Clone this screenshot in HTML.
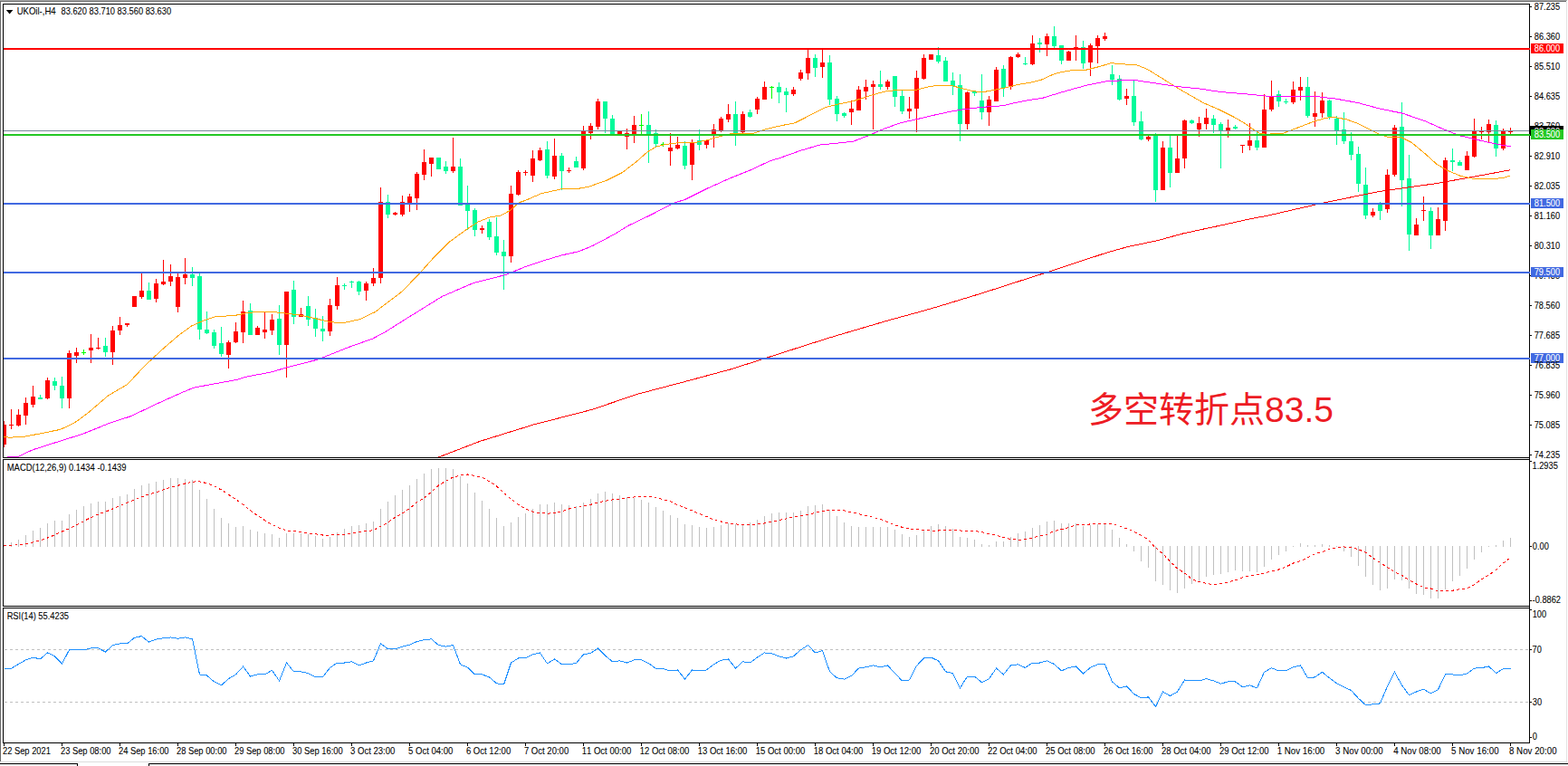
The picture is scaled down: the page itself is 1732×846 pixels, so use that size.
<!DOCTYPE html>
<html><head><meta charset="utf-8"><title>UKOil H4</title>
<style>
html,body{margin:0;padding:0;background:#fff;}
body{width:1732px;height:846px;overflow:hidden;position:relative;font-family:"Liberation Sans",sans-serif;}
svg{position:absolute;left:0;top:0;display:block}
svg text{font-family:"Liberation Sans",sans-serif;}
svg text{font-size:10px;font-kerning:none;stroke-width:0.08px}
</style></head><body>
<svg width="1732" height="846" viewBox="0 0 1732 846">
<rect x="0" y="0" width="1732" height="846" fill="#fff"/>
<g shape-rendering="crispEdges">
<rect x="0" y="0" width="1731" height="1" fill="#a9a9a9"/><rect x="0" y="1" width="1730" height="1" fill="#696969"/><rect x="0" y="1" width="1" height="840" fill="#696969"/><rect x="1730" y="2" width="1" height="840" fill="#e3e3e3"/><rect x="1" y="841" width="1730" height="1" fill="#dcdcdc"/><rect x="0" y="844" width="85" height="2" fill="#f0f0f0"/><rect x="165" y="844" width="1567" height="2" fill="#f0f0f0"/><rect x="0" y="843" width="86" height="1" fill="#000"/><rect x="85" y="843" width="1" height="3" fill="#000"/><rect x="164" y="843" width="1568" height="1" fill="#000"/><rect x="164" y="843" width="1" height="3" fill="#000"/>
<clipPath id="cm"><rect x="4" y="5" width="1685" height="500"/></clipPath>
<g clip-path="url(#cm)">
<rect x="4" y="465" width="1" height="29" fill="#ff0000"/><rect x="2" y="469" width="5" height="22" fill="#ff0000"/><rect x="12" y="452" width="1" height="22" fill="#ff0000"/><rect x="10" y="469" width="5" height="1" fill="#ff0000"/><rect x="20" y="452" width="1" height="19" fill="#ff0000"/><rect x="18" y="458" width="5" height="12" fill="#ff0000"/><rect x="28" y="439" width="1" height="30" fill="#ff0000"/><rect x="26" y="445" width="5" height="14" fill="#ff0000"/><rect x="36" y="426" width="1" height="24" fill="#ff0000"/><rect x="34" y="438" width="5" height="9" fill="#ff0000"/><rect x="44" y="436" width="1" height="5" fill="#00fa9a"/><rect x="42" y="439" width="5" height="2" fill="#00fa9a"/><rect x="52" y="417" width="1" height="24" fill="#ff0000"/><rect x="50" y="420" width="5" height="20" fill="#ff0000"/><rect x="60" y="417" width="1" height="14" fill="#00fa9a"/><rect x="58" y="421" width="5" height="5" fill="#00fa9a"/><rect x="68" y="416" width="1" height="35" fill="#00fa9a"/><rect x="66" y="426" width="5" height="14" fill="#00fa9a"/><rect x="76" y="387" width="1" height="64" fill="#ff0000"/><rect x="74" y="390" width="5" height="50" fill="#ff0000"/><rect x="84" y="384" width="1" height="17" fill="#ff0000"/><rect x="82" y="389" width="5" height="4" fill="#ff0000"/><rect x="92" y="386" width="1" height="6" fill="#00ff00"/><rect x="90" y="389" width="5" height="1" fill="#00ff00"/><rect x="100" y="369" width="1" height="32" fill="#ff0000"/><rect x="98" y="384" width="5" height="3" fill="#ff0000"/><rect x="108" y="373" width="1" height="13" fill="#ff0000"/><rect x="106" y="384" width="5" height="1" fill="#ff0000"/><rect x="116" y="373" width="1" height="21" fill="#00fa9a"/><rect x="114" y="382" width="5" height="7" fill="#00fa9a"/><rect x="124" y="360" width="1" height="43" fill="#ff0000"/><rect x="122" y="365" width="5" height="24" fill="#ff0000"/><rect x="132" y="350" width="1" height="20" fill="#ff0000"/><rect x="130" y="359" width="5" height="6" fill="#ff0000"/><rect x="140" y="357" width="1" height="4" fill="#ff0000"/><rect x="138" y="357" width="5" height="2" fill="#ff0000"/><rect x="148" y="327" width="1" height="12" fill="#ff0000"/><rect x="146" y="327" width="5" height="12" fill="#ff0000"/><rect x="156" y="301" width="1" height="29" fill="#ff0000"/><rect x="154" y="321" width="5" height="7" fill="#ff0000"/><rect x="164" y="312" width="1" height="19" fill="#00fa9a"/><rect x="162" y="321" width="5" height="10" fill="#00fa9a"/><rect x="172" y="308" width="1" height="26" fill="#ff0000"/><rect x="170" y="313" width="5" height="17" fill="#ff0000"/><rect x="180" y="287" width="1" height="28" fill="#ff0000"/><rect x="178" y="311" width="5" height="3" fill="#ff0000"/><rect x="188" y="292" width="1" height="24" fill="#ff0000"/><rect x="186" y="305" width="5" height="6" fill="#ff0000"/><rect x="196" y="301" width="1" height="44" fill="#ff0000"/><rect x="194" y="306" width="5" height="33" fill="#ff0000"/><rect x="204" y="285" width="1" height="29" fill="#ff0000"/><rect x="202" y="303" width="5" height="4" fill="#ff0000"/><rect x="212" y="295" width="1" height="21" fill="#00fa9a"/><rect x="210" y="303" width="5" height="4" fill="#00fa9a"/><rect x="220" y="301" width="1" height="74" fill="#00fa9a"/><rect x="218" y="305" width="5" height="59" fill="#00fa9a"/><rect x="228" y="344" width="1" height="25" fill="#00fa9a"/><rect x="226" y="364" width="5" height="4" fill="#00fa9a"/><rect x="236" y="364" width="1" height="21" fill="#00fa9a"/><rect x="234" y="367" width="5" height="15" fill="#00fa9a"/><rect x="244" y="361" width="1" height="33" fill="#00fa9a"/><rect x="242" y="379" width="5" height="12" fill="#00fa9a"/><rect x="252" y="376" width="1" height="31" fill="#ff0000"/><rect x="250" y="378" width="5" height="14" fill="#ff0000"/><rect x="260" y="356" width="1" height="23" fill="#ff0000"/><rect x="258" y="366" width="5" height="12" fill="#ff0000"/><rect x="268" y="332" width="1" height="47" fill="#ff0000"/><rect x="266" y="344" width="5" height="23" fill="#ff0000"/><rect x="276" y="335" width="1" height="35" fill="#00fa9a"/><rect x="274" y="343" width="5" height="27" fill="#00fa9a"/><rect x="284" y="360" width="1" height="10" fill="#ff0000"/><rect x="282" y="362" width="5" height="8" fill="#ff0000"/><rect x="292" y="345" width="1" height="29" fill="#ff0000"/><rect x="290" y="364" width="5" height="3" fill="#ff0000"/><rect x="300" y="347" width="1" height="23" fill="#ff0000"/><rect x="298" y="353" width="5" height="12" fill="#ff0000"/><rect x="308" y="337" width="1" height="55" fill="#00fa9a"/><rect x="306" y="352" width="5" height="29" fill="#00fa9a"/><rect x="316" y="322" width="1" height="95" fill="#ff0000"/><rect x="314" y="322" width="5" height="59" fill="#ff0000"/><rect x="324" y="310" width="1" height="48" fill="#00fa9a"/><rect x="322" y="320" width="5" height="30" fill="#00fa9a"/><rect x="332" y="340" width="1" height="10" fill="#ff0000"/><rect x="330" y="347" width="5" height="3" fill="#ff0000"/><rect x="340" y="327" width="1" height="33" fill="#00fa9a"/><rect x="338" y="338" width="5" height="15" fill="#00fa9a"/><rect x="348" y="341" width="1" height="31" fill="#00fa9a"/><rect x="346" y="351" width="5" height="12" fill="#00fa9a"/><rect x="356" y="349" width="1" height="28" fill="#00fa9a"/><rect x="354" y="363" width="5" height="3" fill="#00fa9a"/><rect x="364" y="330" width="1" height="41" fill="#ff0000"/><rect x="362" y="337" width="5" height="29" fill="#ff0000"/><rect x="372" y="306" width="1" height="36" fill="#ff0000"/><rect x="370" y="315" width="5" height="23" fill="#ff0000"/><rect x="380" y="313" width="1" height="7" fill="#00fa9a"/><rect x="378" y="315" width="5" height="1" fill="#00fa9a"/><rect x="388" y="310" width="1" height="8" fill="#00fa9a"/><rect x="386" y="311" width="5" height="1" fill="#00fa9a"/><rect x="396" y="310" width="1" height="16" fill="#00fa9a"/><rect x="394" y="311" width="5" height="11" fill="#00fa9a"/><rect x="404" y="311" width="1" height="21" fill="#ff0000"/><rect x="402" y="313" width="5" height="8" fill="#ff0000"/><rect x="412" y="296" width="1" height="20" fill="#ff0000"/><rect x="410" y="307" width="5" height="6" fill="#ff0000"/><rect x="420" y="207" width="1" height="106" fill="#ff0000"/><rect x="418" y="223" width="5" height="84" fill="#ff0000"/><rect x="428" y="215" width="1" height="26" fill="#00fa9a"/><rect x="426" y="223" width="5" height="14" fill="#00fa9a"/><rect x="436" y="234" width="1" height="4" fill="#ff0000"/><rect x="434" y="235" width="5" height="2" fill="#ff0000"/><rect x="444" y="216" width="1" height="23" fill="#ff0000"/><rect x="442" y="223" width="5" height="14" fill="#ff0000"/><rect x="452" y="214" width="1" height="20" fill="#ff0000"/><rect x="450" y="217" width="5" height="7" fill="#ff0000"/><rect x="460" y="190" width="1" height="42" fill="#ff0000"/><rect x="458" y="192" width="5" height="27" fill="#ff0000"/><rect x="468" y="165" width="1" height="34" fill="#ff0000"/><rect x="466" y="179" width="5" height="14" fill="#ff0000"/><rect x="476" y="174" width="1" height="21" fill="#ff0000"/><rect x="474" y="174" width="5" height="7" fill="#ff0000"/><rect x="484" y="174" width="1" height="13" fill="#00fa9a"/><rect x="482" y="174" width="5" height="13" fill="#00fa9a"/><rect x="492" y="178" width="1" height="14" fill="#00fa9a"/><rect x="490" y="184" width="5" height="5" fill="#00fa9a"/><rect x="500" y="152" width="1" height="39" fill="#ff0000"/><rect x="498" y="184" width="5" height="5" fill="#ff0000"/><rect x="508" y="175" width="1" height="52" fill="#00fa9a"/><rect x="506" y="184" width="5" height="43" fill="#00fa9a"/><rect x="516" y="205" width="1" height="49" fill="#00fa9a"/><rect x="514" y="226" width="5" height="7" fill="#00fa9a"/><rect x="524" y="230" width="1" height="31" fill="#00fa9a"/><rect x="522" y="232" width="5" height="22" fill="#00fa9a"/><rect x="532" y="249" width="1" height="9" fill="#ff0000"/><rect x="530" y="252" width="5" height="2" fill="#ff0000"/><rect x="540" y="242" width="1" height="23" fill="#00fa9a"/><rect x="538" y="245" width="5" height="17" fill="#00fa9a"/><rect x="548" y="240" width="1" height="42" fill="#00fa9a"/><rect x="546" y="261" width="5" height="18" fill="#00fa9a"/><rect x="556" y="265" width="1" height="55" fill="#00fa9a"/><rect x="554" y="278" width="5" height="5" fill="#00fa9a"/><rect x="564" y="205" width="1" height="85" fill="#ff0000"/><rect x="562" y="214" width="5" height="69" fill="#ff0000"/><rect x="572" y="188" width="1" height="28" fill="#ff0000"/><rect x="570" y="190" width="5" height="25" fill="#ff0000"/><rect x="580" y="188" width="1" height="6" fill="#ff0000"/><rect x="578" y="190" width="5" height="1" fill="#ff0000"/><rect x="588" y="166" width="1" height="35" fill="#ff0000"/><rect x="586" y="175" width="5" height="19" fill="#ff0000"/><rect x="596" y="163" width="1" height="15" fill="#ff0000"/><rect x="594" y="166" width="5" height="11" fill="#ff0000"/><rect x="604" y="156" width="1" height="41" fill="#00fa9a"/><rect x="602" y="165" width="5" height="29" fill="#00fa9a"/><rect x="612" y="153" width="1" height="45" fill="#ff0000"/><rect x="610" y="172" width="5" height="23" fill="#ff0000"/><rect x="620" y="169" width="1" height="41" fill="#00fa9a"/><rect x="618" y="172" width="5" height="17" fill="#00fa9a"/><rect x="628" y="185" width="1" height="6" fill="#ff0000"/><rect x="626" y="188" width="5" height="1" fill="#ff0000"/><rect x="636" y="173" width="1" height="12" fill="#00fa9a"/><rect x="634" y="178" width="5" height="7" fill="#00fa9a"/><rect x="644" y="139" width="1" height="49" fill="#ff0000"/><rect x="642" y="144" width="5" height="42" fill="#ff0000"/><rect x="652" y="136" width="1" height="18" fill="#ff0000"/><rect x="650" y="139" width="5" height="8" fill="#ff0000"/><rect x="660" y="109" width="1" height="34" fill="#ff0000"/><rect x="658" y="112" width="5" height="28" fill="#ff0000"/><rect x="668" y="112" width="1" height="35" fill="#00fa9a"/><rect x="666" y="112" width="5" height="19" fill="#00fa9a"/><rect x="676" y="127" width="1" height="23" fill="#00fa9a"/><rect x="674" y="131" width="5" height="18" fill="#00fa9a"/><rect x="684" y="144" width="1" height="4" fill="#ff0000"/><rect x="682" y="145" width="5" height="3" fill="#ff0000"/><rect x="692" y="142" width="1" height="23" fill="#ff0000"/><rect x="690" y="147" width="5" height="4" fill="#ff0000"/><rect x="700" y="128" width="1" height="30" fill="#ff0000"/><rect x="698" y="138" width="5" height="10" fill="#ff0000"/><rect x="708" y="126" width="1" height="24" fill="#00ff00"/><rect x="706" y="138" width="5" height="1" fill="#00ff00"/><rect x="716" y="123" width="1" height="57" fill="#00fa9a"/><rect x="714" y="138" width="5" height="10" fill="#00fa9a"/><rect x="724" y="143" width="1" height="19" fill="#00fa9a"/><rect x="722" y="147" width="5" height="12" fill="#00fa9a"/><rect x="732" y="157" width="1" height="5" fill="#00ff00"/><rect x="730" y="159" width="5" height="1" fill="#00ff00"/><rect x="740" y="147" width="1" height="36" fill="#ff0000"/><rect x="738" y="163" width="5" height="4" fill="#ff0000"/><rect x="748" y="151" width="1" height="14" fill="#ff0000"/><rect x="746" y="160" width="5" height="4" fill="#ff0000"/><rect x="756" y="156" width="1" height="31" fill="#00fa9a"/><rect x="754" y="161" width="5" height="22" fill="#00fa9a"/><rect x="764" y="154" width="1" height="45" fill="#ff0000"/><rect x="762" y="157" width="5" height="25" fill="#ff0000"/><rect x="772" y="143" width="1" height="23" fill="#00fa9a"/><rect x="770" y="155" width="5" height="5" fill="#00fa9a"/><rect x="780" y="154" width="1" height="10" fill="#ff0000"/><rect x="778" y="155" width="5" height="5" fill="#ff0000"/><rect x="788" y="137" width="1" height="26" fill="#ff0000"/><rect x="786" y="143" width="5" height="7" fill="#ff0000"/><rect x="796" y="129" width="1" height="17" fill="#ff0000"/><rect x="794" y="131" width="5" height="13" fill="#ff0000"/><rect x="804" y="115" width="1" height="20" fill="#ff0000"/><rect x="802" y="126" width="5" height="6" fill="#ff0000"/><rect x="812" y="112" width="1" height="49" fill="#00fa9a"/><rect x="810" y="126" width="5" height="22" fill="#00fa9a"/><rect x="820" y="123" width="1" height="25" fill="#ff0000"/><rect x="818" y="126" width="5" height="20" fill="#ff0000"/><rect x="828" y="121" width="1" height="9" fill="#00fa9a"/><rect x="826" y="124" width="5" height="5" fill="#00fa9a"/><rect x="836" y="107" width="1" height="19" fill="#ff0000"/><rect x="834" y="109" width="5" height="12" fill="#ff0000"/><rect x="844" y="90" width="1" height="20" fill="#ff0000"/><rect x="842" y="96" width="5" height="14" fill="#ff0000"/><rect x="852" y="95" width="1" height="14" fill="#00ff00"/><rect x="850" y="96" width="5" height="1" fill="#00ff00"/><rect x="860" y="91" width="1" height="23" fill="#00fa9a"/><rect x="858" y="96" width="5" height="6" fill="#00fa9a"/><rect x="868" y="97" width="1" height="27" fill="#00fa9a"/><rect x="866" y="101" width="5" height="4" fill="#00fa9a"/><rect x="876" y="96" width="1" height="10" fill="#ff0000"/><rect x="874" y="99" width="5" height="5" fill="#ff0000"/><rect x="884" y="77" width="1" height="12" fill="#ff0000"/><rect x="882" y="80" width="5" height="7" fill="#ff0000"/><rect x="892" y="54" width="1" height="34" fill="#ff0000"/><rect x="890" y="64" width="5" height="17" fill="#ff0000"/><rect x="900" y="60" width="1" height="25" fill="#00fa9a"/><rect x="898" y="64" width="5" height="11" fill="#00fa9a"/><rect x="908" y="55" width="1" height="31" fill="#ff0000"/><rect x="906" y="69" width="5" height="5" fill="#ff0000"/><rect x="916" y="61" width="1" height="55" fill="#00fa9a"/><rect x="914" y="69" width="5" height="41" fill="#00fa9a"/><rect x="924" y="106" width="1" height="28" fill="#00fa9a"/><rect x="922" y="109" width="5" height="17" fill="#00fa9a"/><rect x="932" y="124" width="1" height="6" fill="#00fa9a"/><rect x="930" y="125" width="5" height="3" fill="#00fa9a"/><rect x="940" y="111" width="1" height="27" fill="#ff0000"/><rect x="938" y="120" width="5" height="4" fill="#ff0000"/><rect x="948" y="95" width="1" height="27" fill="#ff0000"/><rect x="946" y="99" width="5" height="23" fill="#ff0000"/><rect x="956" y="88" width="1" height="22" fill="#ff0000"/><rect x="954" y="96" width="5" height="5" fill="#ff0000"/><rect x="964" y="89" width="1" height="54" fill="#ff0000"/><rect x="962" y="93" width="5" height="3" fill="#ff0000"/><rect x="972" y="78" width="1" height="21" fill="#00fa9a"/><rect x="970" y="93" width="5" height="3" fill="#00fa9a"/><rect x="980" y="88" width="1" height="11" fill="#ff0000"/><rect x="978" y="90" width="5" height="6" fill="#ff0000"/><rect x="988" y="84" width="1" height="34" fill="#00fa9a"/><rect x="986" y="84" width="5" height="23" fill="#00fa9a"/><rect x="996" y="100" width="1" height="26" fill="#00fa9a"/><rect x="994" y="106" width="5" height="17" fill="#00fa9a"/><rect x="1004" y="107" width="1" height="24" fill="#ff0000"/><rect x="1002" y="120" width="5" height="3" fill="#ff0000"/><rect x="1012" y="78" width="1" height="68" fill="#ff0000"/><rect x="1010" y="86" width="5" height="34" fill="#ff0000"/><rect x="1020" y="60" width="1" height="28" fill="#ff0000"/><rect x="1018" y="64" width="5" height="23" fill="#ff0000"/><rect x="1028" y="60" width="1" height="6" fill="#ff0000"/><rect x="1026" y="60" width="5" height="6" fill="#ff0000"/><rect x="1036" y="52" width="1" height="18" fill="#00fa9a"/><rect x="1034" y="61" width="5" height="7" fill="#00fa9a"/><rect x="1044" y="63" width="1" height="27" fill="#00fa9a"/><rect x="1042" y="67" width="5" height="23" fill="#00fa9a"/><rect x="1052" y="80" width="1" height="25" fill="#00fa9a"/><rect x="1050" y="89" width="5" height="6" fill="#00fa9a"/><rect x="1060" y="82" width="1" height="74" fill="#00fa9a"/><rect x="1058" y="94" width="5" height="43" fill="#00fa9a"/><rect x="1068" y="101" width="1" height="42" fill="#ff0000"/><rect x="1066" y="102" width="5" height="35" fill="#ff0000"/><rect x="1076" y="101" width="1" height="5" fill="#00fa9a"/><rect x="1074" y="101" width="5" height="2" fill="#00fa9a"/><rect x="1084" y="82" width="1" height="50" fill="#00fa9a"/><rect x="1082" y="111" width="5" height="13" fill="#00fa9a"/><rect x="1092" y="106" width="1" height="33" fill="#ff0000"/><rect x="1090" y="110" width="5" height="14" fill="#ff0000"/><rect x="1100" y="74" width="1" height="38" fill="#ff0000"/><rect x="1098" y="77" width="5" height="35" fill="#ff0000"/><rect x="1108" y="72" width="1" height="35" fill="#00fa9a"/><rect x="1106" y="76" width="5" height="21" fill="#00fa9a"/><rect x="1116" y="62" width="1" height="37" fill="#ff0000"/><rect x="1114" y="63" width="5" height="33" fill="#ff0000"/><rect x="1124" y="58" width="1" height="6" fill="#ff0000"/><rect x="1122" y="60" width="5" height="3" fill="#ff0000"/><rect x="1132" y="63" width="1" height="9" fill="#00fa9a"/><rect x="1130" y="70" width="5" height="1" fill="#00fa9a"/><rect x="1140" y="39" width="1" height="33" fill="#ff0000"/><rect x="1138" y="48" width="5" height="23" fill="#ff0000"/><rect x="1148" y="42" width="1" height="16" fill="#00fa9a"/><rect x="1146" y="47" width="5" height="2" fill="#00fa9a"/><rect x="1156" y="37" width="1" height="25" fill="#ff0000"/><rect x="1154" y="40" width="5" height="9" fill="#ff0000"/><rect x="1164" y="29" width="1" height="24" fill="#00fa9a"/><rect x="1162" y="40" width="5" height="11" fill="#00fa9a"/><rect x="1172" y="50" width="1" height="21" fill="#00fa9a"/><rect x="1170" y="50" width="5" height="17" fill="#00fa9a"/><rect x="1180" y="56" width="1" height="11" fill="#ff0000"/><rect x="1178" y="57" width="5" height="10" fill="#ff0000"/><rect x="1188" y="39" width="1" height="28" fill="#ff0000"/><rect x="1186" y="52" width="5" height="1" fill="#ff0000"/><rect x="1196" y="45" width="1" height="31" fill="#00fa9a"/><rect x="1194" y="52" width="5" height="18" fill="#00fa9a"/><rect x="1204" y="48" width="1" height="36" fill="#ff0000"/><rect x="1202" y="50" width="5" height="19" fill="#ff0000"/><rect x="1212" y="39" width="1" height="31" fill="#ff0000"/><rect x="1210" y="42" width="5" height="9" fill="#ff0000"/><rect x="1220" y="36" width="1" height="9" fill="#ff0000"/><rect x="1218" y="40" width="5" height="3" fill="#ff0000"/><rect x="1228" y="72" width="1" height="22" fill="#00fa9a"/><rect x="1226" y="82" width="5" height="6" fill="#00fa9a"/><rect x="1236" y="83" width="1" height="28" fill="#00fa9a"/><rect x="1234" y="87" width="5" height="23" fill="#00fa9a"/><rect x="1244" y="98" width="1" height="18" fill="#ff0000"/><rect x="1242" y="106" width="5" height="3" fill="#ff0000"/><rect x="1252" y="88" width="1" height="51" fill="#00fa9a"/><rect x="1250" y="106" width="5" height="29" fill="#00fa9a"/><rect x="1260" y="123" width="1" height="32" fill="#00fa9a"/><rect x="1258" y="134" width="5" height="20" fill="#00fa9a"/><rect x="1268" y="149" width="1" height="7" fill="#ff0000"/><rect x="1266" y="151" width="5" height="3" fill="#ff0000"/><rect x="1276" y="147" width="1" height="76" fill="#00fa9a"/><rect x="1274" y="148" width="5" height="62" fill="#00fa9a"/><rect x="1284" y="156" width="1" height="54" fill="#ff0000"/><rect x="1282" y="163" width="5" height="47" fill="#ff0000"/><rect x="1292" y="149" width="1" height="58" fill="#00fa9a"/><rect x="1290" y="163" width="5" height="28" fill="#00fa9a"/><rect x="1300" y="149" width="1" height="42" fill="#ff0000"/><rect x="1298" y="175" width="5" height="16" fill="#ff0000"/><rect x="1308" y="132" width="1" height="54" fill="#ff0000"/><rect x="1306" y="133" width="5" height="42" fill="#ff0000"/><rect x="1316" y="132" width="1" height="5" fill="#00fa9a"/><rect x="1314" y="133" width="5" height="3" fill="#00fa9a"/><rect x="1324" y="129" width="1" height="22" fill="#ff0000"/><rect x="1322" y="136" width="5" height="7" fill="#ff0000"/><rect x="1332" y="120" width="1" height="23" fill="#ff0000"/><rect x="1330" y="130" width="5" height="7" fill="#ff0000"/><rect x="1340" y="127" width="1" height="20" fill="#00fa9a"/><rect x="1338" y="131" width="5" height="7" fill="#00fa9a"/><rect x="1348" y="135" width="1" height="51" fill="#00fa9a"/><rect x="1346" y="137" width="5" height="8" fill="#00fa9a"/><rect x="1356" y="132" width="1" height="20" fill="#ff0000"/><rect x="1354" y="141" width="5" height="4" fill="#ff0000"/><rect x="1364" y="138" width="1" height="5" fill="#00fa9a"/><rect x="1362" y="140" width="5" height="2" fill="#00fa9a"/><rect x="1372" y="160" width="1" height="9" fill="#ff0000"/><rect x="1370" y="160" width="5" height="1" fill="#ff0000"/><rect x="1380" y="136" width="1" height="30" fill="#ff0000"/><rect x="1378" y="155" width="5" height="6" fill="#ff0000"/><rect x="1388" y="145" width="1" height="21" fill="#00fa9a"/><rect x="1386" y="155" width="5" height="8" fill="#00fa9a"/><rect x="1396" y="104" width="1" height="59" fill="#ff0000"/><rect x="1394" y="121" width="5" height="42" fill="#ff0000"/><rect x="1404" y="89" width="1" height="34" fill="#ff0000"/><rect x="1402" y="106" width="5" height="15" fill="#ff0000"/><rect x="1412" y="100" width="1" height="18" fill="#00fa9a"/><rect x="1410" y="104" width="5" height="8" fill="#00fa9a"/><rect x="1420" y="109" width="1" height="6" fill="#00fa9a"/><rect x="1418" y="112" width="5" height="1" fill="#00fa9a"/><rect x="1428" y="90" width="1" height="25" fill="#ff0000"/><rect x="1426" y="99" width="5" height="14" fill="#ff0000"/><rect x="1436" y="85" width="1" height="26" fill="#ff0000"/><rect x="1434" y="96" width="5" height="4" fill="#ff0000"/><rect x="1444" y="85" width="1" height="45" fill="#00fa9a"/><rect x="1442" y="96" width="5" height="32" fill="#00fa9a"/><rect x="1452" y="101" width="1" height="39" fill="#ff0000"/><rect x="1450" y="125" width="5" height="4" fill="#ff0000"/><rect x="1460" y="102" width="1" height="28" fill="#ff0000"/><rect x="1458" y="111" width="5" height="14" fill="#ff0000"/><rect x="1468" y="110" width="1" height="22" fill="#00fa9a"/><rect x="1466" y="111" width="5" height="18" fill="#00fa9a"/><rect x="1476" y="128" width="1" height="32" fill="#00fa9a"/><rect x="1474" y="131" width="5" height="13" fill="#00fa9a"/><rect x="1484" y="124" width="1" height="35" fill="#00fa9a"/><rect x="1482" y="143" width="5" height="13" fill="#00fa9a"/><rect x="1492" y="146" width="1" height="31" fill="#00fa9a"/><rect x="1490" y="156" width="5" height="15" fill="#00fa9a"/><rect x="1500" y="162" width="1" height="50" fill="#00fa9a"/><rect x="1498" y="170" width="5" height="33" fill="#00fa9a"/><rect x="1508" y="185" width="1" height="57" fill="#00fa9a"/><rect x="1506" y="204" width="5" height="34" fill="#00fa9a"/><rect x="1516" y="230" width="1" height="10" fill="#ff0000"/><rect x="1514" y="234" width="5" height="4" fill="#ff0000"/><rect x="1524" y="223" width="1" height="20" fill="#00fa9a"/><rect x="1522" y="226" width="5" height="7" fill="#00fa9a"/><rect x="1532" y="187" width="1" height="48" fill="#ff0000"/><rect x="1530" y="193" width="5" height="38" fill="#ff0000"/><rect x="1540" y="138" width="1" height="57" fill="#ff0000"/><rect x="1538" y="141" width="5" height="52" fill="#ff0000"/><rect x="1548" y="113" width="1" height="115" fill="#00fa9a"/><rect x="1546" y="140" width="5" height="59" fill="#00fa9a"/><rect x="1556" y="171" width="1" height="106" fill="#00fa9a"/><rect x="1554" y="197" width="5" height="62" fill="#00fa9a"/><rect x="1564" y="241" width="1" height="19" fill="#ff0000"/><rect x="1562" y="248" width="5" height="12" fill="#ff0000"/><rect x="1572" y="217" width="1" height="27" fill="#ff0000"/><rect x="1570" y="232" width="5" height="1" fill="#ff0000"/><rect x="1580" y="229" width="1" height="46" fill="#00fa9a"/><rect x="1578" y="233" width="5" height="27" fill="#00fa9a"/><rect x="1588" y="229" width="1" height="31" fill="#ff0000"/><rect x="1586" y="242" width="5" height="18" fill="#ff0000"/><rect x="1596" y="174" width="1" height="81" fill="#ff0000"/><rect x="1594" y="177" width="5" height="67" fill="#ff0000"/><rect x="1604" y="164" width="1" height="25" fill="#00fa9a"/><rect x="1602" y="177" width="5" height="2" fill="#00fa9a"/><rect x="1612" y="177" width="1" height="6" fill="#00fa9a"/><rect x="1610" y="179" width="5" height="4" fill="#00fa9a"/><rect x="1620" y="167" width="1" height="21" fill="#ff0000"/><rect x="1618" y="172" width="5" height="16" fill="#ff0000"/><rect x="1628" y="131" width="1" height="43" fill="#ff0000"/><rect x="1626" y="144" width="5" height="29" fill="#ff0000"/><rect x="1636" y="140" width="1" height="14" fill="#ff0000"/><rect x="1634" y="145" width="5" height="1" fill="#ff0000"/><rect x="1644" y="132" width="1" height="25" fill="#ff0000"/><rect x="1642" y="137" width="5" height="9" fill="#ff0000"/><rect x="1652" y="133" width="1" height="40" fill="#00fa9a"/><rect x="1650" y="138" width="5" height="26" fill="#00fa9a"/><rect x="1660" y="142" width="1" height="24" fill="#ff0000"/><rect x="1658" y="144" width="5" height="20" fill="#ff0000"/><rect x="1668" y="141" width="1" height="7" fill="#ff0000"/><rect x="1666" y="145" width="5" height="1" fill="#ff0000"/>
<polyline fill="none" stroke="#ff0000" stroke-width="1"  points="483.0,505.5 529.8,487.5 588.7,469.2 654.5,452.2 703.0,435.6 758.4,421.0 806.9,407.9 845.0,395.8 893.5,380.2 921.2,371.5 980.1,354.2 1021.6,342.8 1040.5,337.3 1084.1,324.0 1125.4,310.7 1154.5,301.4 1186.0,291.0 1222.4,279.1 1246.6,272.3 1278.1,265.8 1307.2,257.8 1343.6,250.0 1380.0,242.0 1400.5,238.1 1462.5,223.9 1524.6,211.3 1586.6,202.6 1623.8,195.9 1668.5,187.7"/>
<polyline fill="none" stroke="#ffa500" stroke-width="1"  points="4.5,482.0 9.5,483.1 23.9,482.8 41.2,479.5 66.5,474.4 81.9,467.3 97.1,456.1 119.6,436.9 140.7,424.5 159.3,404.6 179.2,386.0 196.5,371.1 211.4,360.0 223.8,354.5 236.2,350.1 261.0,348.1 273.5,345.6 280.5,344.9 305.3,344.9 330.1,347.8 347.5,351.5 364.9,355.8 379.8,356.5 397.1,352.8 414.5,344.5 429.4,333.0 444.3,321.8 464.1,301.2 479.0,284.5 496.4,267.2 516.2,252.8 528.5,244.9 541.0,239.9 553.5,237.9 563.4,232.5 573.3,223.8 580.5,221.3 597.8,213.8 620.1,208.8 640.0,208.1 649.9,206.3 669.8,199.4 687.1,190.7 702.0,179.5 714.4,168.4 724.3,162.2 734.3,159.7 749.2,157.7 769.0,157.2 781.4,154.7 793.8,151.0 806.2,148.0 831.0,147.8 843.5,143.5 855.9,140.3 866.5,138.0 877.9,135.8 895.2,127.1 912.6,118.4 927.5,114.7 942.4,111.7 959.8,106.0 977.1,101.1 992.0,99.3 1011.9,99.3 1024.3,96.1 1036.7,94.1 1049.1,94.1 1061.5,97.3 1073.9,100.5 1085.1,101.8 1096.2,99.8 1108.6,97.3 1123.5,93.6 1138.4,91.1 1150.5,88.0 1165.4,81.3 1180.3,78.1 1200.1,77.1 1215.0,73.4 1227.4,69.6 1239.8,70.9 1254.7,71.4 1267.1,76.3 1282.0,85.5 1296.9,94.9 1311.8,103.6 1329.2,113.6 1346.5,121.0 1361.4,128.4 1373.8,135.4 1383.8,142.6 1391.2,147.1 1398.6,148.3 1417.9,147.0 1432.8,141.3 1450.1,134.6 1465.0,130.1 1474.9,129.6 1487.3,131.9 1499.8,136.3 1512.2,142.5 1524.6,148.7 1534.5,151.7 1546.9,151.2 1559.3,157.4 1574.2,169.8 1586.6,181.0 1599.0,188.4 1613.9,194.6 1628.8,197.6 1648.6,197.6 1661.0,196.4 1668.5,193.9"/>
<polyline fill="none" stroke="#ff00ff" stroke-width="1"  points="4.5,505.5 8.5,504.9 20.5,504.1 36.1,496.8 61.5,488.7 92.1,479.0 119.6,467.9 144.4,459.7 174.2,445.6 199.0,434.4 213.9,428.2 236.2,424.0 261.0,419.5 273.5,415.8 300.5,410.8 316.9,405.7 350.8,397.2 387.2,382.7 411.4,374.2 426.0,366.4 454.2,348.5 460.5,344.8 488.2,327.5 522.8,312.6 559.2,303.3 580.5,294.5 595.7,289.3 620.0,282.0 639.4,277.7 653.9,271.8 678.2,259.0 694.5,249.0 719.4,237.1 744.2,224.2 756.6,220.5 781.4,208.1 806.2,196.9 831.0,187.0 850.9,177.5 860.5,174.8 882.8,166.8 905.2,160.1 925.0,158.1 942.4,156.2 959.8,149.5 977.1,142.0 994.5,135.8 1014.3,131.3 1034.2,126.6 1049.1,123.4 1064.0,120.9 1083.8,118.4 1108.6,116.7 1121.0,113.5 1140.9,109.8 1150.5,108.6 1175.3,101.1 1200.1,94.2 1224.9,89.2 1254.7,88.7 1274.6,91.7 1299.4,95.4 1324.2,97.9 1349.0,101.6 1373.8,103.6 1398.6,106.1 1425.3,106.1 1450.1,106.1 1474.9,109.0 1499.8,113.5 1524.6,120.2 1549.4,125.2 1574.2,133.8 1594.0,142.5 1611.4,149.5 1628.8,153.7 1648.6,158.2 1668.5,161.9"/>
</g>
<rect x="4" y="602" width="1" height="2" fill="#c0c0c0"/><rect x="12" y="599" width="1" height="5" fill="#c0c0c0"/><rect x="20" y="596" width="1" height="8" fill="#c0c0c0"/><rect x="28" y="591" width="1" height="13" fill="#c0c0c0"/><rect x="36" y="586" width="1" height="18" fill="#c0c0c0"/><rect x="44" y="583" width="1" height="21" fill="#c0c0c0"/><rect x="52" y="578" width="1" height="26" fill="#c0c0c0"/><rect x="60" y="575" width="1" height="29" fill="#c0c0c0"/><rect x="68" y="575" width="1" height="29" fill="#c0c0c0"/><rect x="76" y="568" width="1" height="36" fill="#c0c0c0"/><rect x="84" y="563" width="1" height="41" fill="#c0c0c0"/><rect x="92" y="559" width="1" height="45" fill="#c0c0c0"/><rect x="100" y="556" width="1" height="48" fill="#c0c0c0"/><rect x="108" y="554" width="1" height="50" fill="#c0c0c0"/><rect x="116" y="554" width="1" height="50" fill="#c0c0c0"/><rect x="124" y="550" width="1" height="54" fill="#c0c0c0"/><rect x="132" y="548" width="1" height="56" fill="#c0c0c0"/><rect x="140" y="546" width="1" height="58" fill="#c0c0c0"/><rect x="148" y="540" width="1" height="64" fill="#c0c0c0"/><rect x="156" y="536" width="1" height="68" fill="#c0c0c0"/><rect x="164" y="534" width="1" height="70" fill="#c0c0c0"/><rect x="172" y="532" width="1" height="72" fill="#c0c0c0"/><rect x="180" y="530" width="1" height="74" fill="#c0c0c0"/><rect x="188" y="528" width="1" height="76" fill="#c0c0c0"/><rect x="196" y="528" width="1" height="76" fill="#c0c0c0"/><rect x="204" y="529" width="1" height="75" fill="#c0c0c0"/><rect x="212" y="530" width="1" height="74" fill="#c0c0c0"/><rect x="220" y="541" width="1" height="63" fill="#c0c0c0"/><rect x="228" y="551" width="1" height="53" fill="#c0c0c0"/><rect x="236" y="562" width="1" height="42" fill="#c0c0c0"/><rect x="244" y="572" width="1" height="32" fill="#c0c0c0"/><rect x="252" y="578" width="1" height="26" fill="#c0c0c0"/><rect x="260" y="582" width="1" height="22" fill="#c0c0c0"/><rect x="268" y="581" width="1" height="23" fill="#c0c0c0"/><rect x="276" y="585" width="1" height="19" fill="#c0c0c0"/><rect x="284" y="587" width="1" height="17" fill="#c0c0c0"/><rect x="292" y="589" width="1" height="15" fill="#c0c0c0"/><rect x="300" y="590" width="1" height="14" fill="#c0c0c0"/><rect x="308" y="594" width="1" height="10" fill="#c0c0c0"/><rect x="316" y="589" width="1" height="15" fill="#c0c0c0"/><rect x="324" y="589" width="1" height="15" fill="#c0c0c0"/><rect x="332" y="589" width="1" height="15" fill="#c0c0c0"/><rect x="340" y="590" width="1" height="14" fill="#c0c0c0"/><rect x="348" y="592" width="1" height="12" fill="#c0c0c0"/><rect x="356" y="595" width="1" height="9" fill="#c0c0c0"/><rect x="364" y="593" width="1" height="11" fill="#c0c0c0"/><rect x="372" y="588" width="1" height="16" fill="#c0c0c0"/><rect x="380" y="584" width="1" height="20" fill="#c0c0c0"/><rect x="388" y="581" width="1" height="23" fill="#c0c0c0"/><rect x="396" y="580" width="1" height="24" fill="#c0c0c0"/><rect x="404" y="578" width="1" height="26" fill="#c0c0c0"/><rect x="412" y="576" width="1" height="28" fill="#c0c0c0"/><rect x="420" y="562" width="1" height="42" fill="#c0c0c0"/><rect x="428" y="554" width="1" height="50" fill="#c0c0c0"/><rect x="436" y="547" width="1" height="57" fill="#c0c0c0"/><rect x="444" y="541" width="1" height="63" fill="#c0c0c0"/><rect x="452" y="536" width="1" height="68" fill="#c0c0c0"/><rect x="460" y="529" width="1" height="75" fill="#c0c0c0"/><rect x="468" y="523" width="1" height="81" fill="#c0c0c0"/><rect x="476" y="518" width="1" height="86" fill="#c0c0c0"/><rect x="484" y="517" width="1" height="87" fill="#c0c0c0"/><rect x="492" y="517" width="1" height="87" fill="#c0c0c0"/><rect x="500" y="518" width="1" height="86" fill="#c0c0c0"/><rect x="508" y="526" width="1" height="78" fill="#c0c0c0"/><rect x="516" y="534" width="1" height="70" fill="#c0c0c0"/><rect x="524" y="544" width="1" height="60" fill="#c0c0c0"/><rect x="532" y="553" width="1" height="51" fill="#c0c0c0"/><rect x="540" y="562" width="1" height="42" fill="#c0c0c0"/><rect x="548" y="572" width="1" height="32" fill="#c0c0c0"/><rect x="556" y="581" width="1" height="23" fill="#c0c0c0"/><rect x="564" y="577" width="1" height="27" fill="#c0c0c0"/><rect x="572" y="571" width="1" height="33" fill="#c0c0c0"/><rect x="580" y="567" width="1" height="37" fill="#c0c0c0"/><rect x="588" y="562" width="1" height="42" fill="#c0c0c0"/><rect x="596" y="557" width="1" height="47" fill="#c0c0c0"/><rect x="604" y="557" width="1" height="47" fill="#c0c0c0"/><rect x="612" y="555" width="1" height="49" fill="#c0c0c0"/><rect x="620" y="557" width="1" height="47" fill="#c0c0c0"/><rect x="628" y="558" width="1" height="46" fill="#c0c0c0"/><rect x="636" y="559" width="1" height="45" fill="#c0c0c0"/><rect x="644" y="555" width="1" height="49" fill="#c0c0c0"/><rect x="652" y="551" width="1" height="53" fill="#c0c0c0"/><rect x="660" y="545" width="1" height="59" fill="#c0c0c0"/><rect x="668" y="543" width="1" height="61" fill="#c0c0c0"/><rect x="676" y="545" width="1" height="59" fill="#c0c0c0"/><rect x="684" y="547" width="1" height="57" fill="#c0c0c0"/><rect x="692" y="549" width="1" height="55" fill="#c0c0c0"/><rect x="700" y="550" width="1" height="54" fill="#c0c0c0"/><rect x="708" y="552" width="1" height="52" fill="#c0c0c0"/><rect x="716" y="555" width="1" height="49" fill="#c0c0c0"/><rect x="724" y="560" width="1" height="44" fill="#c0c0c0"/><rect x="732" y="564" width="1" height="40" fill="#c0c0c0"/><rect x="740" y="569" width="1" height="35" fill="#c0c0c0"/><rect x="748" y="572" width="1" height="32" fill="#c0c0c0"/><rect x="756" y="579" width="1" height="25" fill="#c0c0c0"/><rect x="764" y="580" width="1" height="24" fill="#c0c0c0"/><rect x="772" y="582" width="1" height="22" fill="#c0c0c0"/><rect x="780" y="583" width="1" height="21" fill="#c0c0c0"/><rect x="788" y="582" width="1" height="22" fill="#c0c0c0"/><rect x="796" y="580" width="1" height="24" fill="#c0c0c0"/><rect x="804" y="578" width="1" height="26" fill="#c0c0c0"/><rect x="812" y="579" width="1" height="25" fill="#c0c0c0"/><rect x="820" y="579" width="1" height="25" fill="#c0c0c0"/><rect x="828" y="577" width="1" height="27" fill="#c0c0c0"/><rect x="836" y="574" width="1" height="30" fill="#c0c0c0"/><rect x="844" y="570" width="1" height="34" fill="#c0c0c0"/><rect x="852" y="567" width="1" height="37" fill="#c0c0c0"/><rect x="860" y="566" width="1" height="38" fill="#c0c0c0"/><rect x="868" y="566" width="1" height="38" fill="#c0c0c0"/><rect x="876" y="566" width="1" height="38" fill="#c0c0c0"/><rect x="884" y="564" width="1" height="40" fill="#c0c0c0"/><rect x="892" y="559" width="1" height="45" fill="#c0c0c0"/><rect x="900" y="558" width="1" height="46" fill="#c0c0c0"/><rect x="908" y="557" width="1" height="47" fill="#c0c0c0"/><rect x="916" y="563" width="1" height="41" fill="#c0c0c0"/><rect x="924" y="570" width="1" height="34" fill="#c0c0c0"/><rect x="932" y="577" width="1" height="27" fill="#c0c0c0"/><rect x="940" y="581" width="1" height="23" fill="#c0c0c0"/><rect x="948" y="582" width="1" height="22" fill="#c0c0c0"/><rect x="956" y="582" width="1" height="22" fill="#c0c0c0"/><rect x="964" y="582" width="1" height="22" fill="#c0c0c0"/><rect x="972" y="582" width="1" height="22" fill="#c0c0c0"/><rect x="980" y="582" width="1" height="22" fill="#c0c0c0"/><rect x="988" y="585" width="1" height="19" fill="#c0c0c0"/><rect x="996" y="590" width="1" height="14" fill="#c0c0c0"/><rect x="1004" y="593" width="1" height="11" fill="#c0c0c0"/><rect x="1012" y="591" width="1" height="13" fill="#c0c0c0"/><rect x="1020" y="586" width="1" height="18" fill="#c0c0c0"/><rect x="1028" y="581" width="1" height="23" fill="#c0c0c0"/><rect x="1036" y="579" width="1" height="25" fill="#c0c0c0"/><rect x="1044" y="581" width="1" height="23" fill="#c0c0c0"/><rect x="1052" y="584" width="1" height="20" fill="#c0c0c0"/><rect x="1060" y="593" width="1" height="11" fill="#c0c0c0"/><rect x="1068" y="594" width="1" height="10" fill="#c0c0c0"/><rect x="1076" y="596" width="1" height="8" fill="#c0c0c0"/><rect x="1084" y="601" width="1" height="3" fill="#c0c0c0"/><rect x="1092" y="602" width="1" height="2" fill="#c0c0c0"/><rect x="1100" y="598" width="1" height="6" fill="#c0c0c0"/><rect x="1108" y="598" width="1" height="6" fill="#c0c0c0"/><rect x="1116" y="593" width="1" height="11" fill="#c0c0c0"/><rect x="1124" y="589" width="1" height="15" fill="#c0c0c0"/><rect x="1132" y="587" width="1" height="17" fill="#c0c0c0"/><rect x="1140" y="583" width="1" height="21" fill="#c0c0c0"/><rect x="1148" y="580" width="1" height="24" fill="#c0c0c0"/><rect x="1156" y="576" width="1" height="28" fill="#c0c0c0"/><rect x="1164" y="575" width="1" height="29" fill="#c0c0c0"/><rect x="1172" y="578" width="1" height="26" fill="#c0c0c0"/><rect x="1180" y="578" width="1" height="26" fill="#c0c0c0"/><rect x="1188" y="578" width="1" height="26" fill="#c0c0c0"/><rect x="1196" y="581" width="1" height="23" fill="#c0c0c0"/><rect x="1204" y="580" width="1" height="24" fill="#c0c0c0"/><rect x="1212" y="579" width="1" height="25" fill="#c0c0c0"/><rect x="1220" y="578" width="1" height="26" fill="#c0c0c0"/><rect x="1228" y="585" width="1" height="19" fill="#c0c0c0"/><rect x="1236" y="594" width="1" height="10" fill="#c0c0c0"/><rect x="1244" y="601" width="1" height="3" fill="#c0c0c0"/><rect x="1252" y="603" width="1" height="6" fill="#c0c0c0"/><rect x="1260" y="603" width="1" height="17" fill="#c0c0c0"/><rect x="1268" y="603" width="1" height="24" fill="#c0c0c0"/><rect x="1276" y="603" width="1" height="39" fill="#c0c0c0"/><rect x="1284" y="603" width="1" height="43" fill="#c0c0c0"/><rect x="1292" y="603" width="1" height="49" fill="#c0c0c0"/><rect x="1300" y="603" width="1" height="52" fill="#c0c0c0"/><rect x="1308" y="603" width="1" height="47" fill="#c0c0c0"/><rect x="1316" y="603" width="1" height="42" fill="#c0c0c0"/><rect x="1324" y="603" width="1" height="39" fill="#c0c0c0"/><rect x="1332" y="603" width="1" height="34" fill="#c0c0c0"/><rect x="1340" y="603" width="1" height="32" fill="#c0c0c0"/><rect x="1348" y="603" width="1" height="31" fill="#c0c0c0"/><rect x="1356" y="603" width="1" height="29" fill="#c0c0c0"/><rect x="1364" y="603" width="1" height="27" fill="#c0c0c0"/><rect x="1372" y="603" width="1" height="28" fill="#c0c0c0"/><rect x="1380" y="603" width="1" height="28" fill="#c0c0c0"/><rect x="1388" y="603" width="1" height="29" fill="#c0c0c0"/><rect x="1396" y="603" width="1" height="23" fill="#c0c0c0"/><rect x="1404" y="603" width="1" height="15" fill="#c0c0c0"/><rect x="1412" y="603" width="1" height="10" fill="#c0c0c0"/><rect x="1420" y="603" width="1" height="6" fill="#c0c0c0"/><rect x="1428" y="603" width="1" height="1" fill="#c0c0c0"/><rect x="1436" y="600" width="1" height="4" fill="#c0c0c0"/><rect x="1444" y="602" width="1" height="2" fill="#c0c0c0"/><rect x="1452" y="602" width="1" height="2" fill="#c0c0c0"/><rect x="1460" y="601" width="1" height="3" fill="#c0c0c0"/><rect x="1468" y="602" width="1" height="2" fill="#c0c0c0"/><rect x="1476" y="603" width="1" height="1" fill="#c0c0c0"/><rect x="1484" y="603" width="1" height="6" fill="#c0c0c0"/><rect x="1492" y="603" width="1" height="12" fill="#c0c0c0"/><rect x="1500" y="603" width="1" height="22" fill="#c0c0c0"/><rect x="1508" y="603" width="1" height="34" fill="#c0c0c0"/><rect x="1516" y="603" width="1" height="43" fill="#c0c0c0"/><rect x="1524" y="603" width="1" height="49" fill="#c0c0c0"/><rect x="1532" y="603" width="1" height="47" fill="#c0c0c0"/><rect x="1540" y="603" width="1" height="37" fill="#c0c0c0"/><rect x="1548" y="603" width="1" height="38" fill="#c0c0c0"/><rect x="1556" y="603" width="1" height="47" fill="#c0c0c0"/><rect x="1564" y="603" width="1" height="53" fill="#c0c0c0"/><rect x="1572" y="603" width="1" height="54" fill="#c0c0c0"/><rect x="1580" y="603" width="1" height="58" fill="#c0c0c0"/><rect x="1588" y="603" width="1" height="58" fill="#c0c0c0"/><rect x="1596" y="603" width="1" height="48" fill="#c0c0c0"/><rect x="1604" y="603" width="1" height="39" fill="#c0c0c0"/><rect x="1612" y="603" width="1" height="33" fill="#c0c0c0"/><rect x="1620" y="603" width="1" height="25" fill="#c0c0c0"/><rect x="1628" y="603" width="1" height="15" fill="#c0c0c0"/><rect x="1636" y="603" width="1" height="7" fill="#c0c0c0"/><rect x="1644" y="603" width="1" height="1" fill="#c0c0c0"/><rect x="1652" y="602" width="1" height="2" fill="#c0c0c0"/><rect x="1660" y="597" width="1" height="7" fill="#c0c0c0"/><rect x="1668" y="594" width="1" height="10" fill="#c0c0c0"/>
<polyline fill="none" stroke="#ff0000" stroke-width="1" stroke-dasharray="3 3" points="4.5,602.7 12.5,602.5 20.5,601.7 28.5,600.6 36.5,598.9 44.5,597.0 52.5,594.0 60.5,590.8 68.5,587.0 76.5,583.8 84.5,579.8 92.5,575.6 100.5,571.5 108.5,568.1 116.5,565.2 124.5,562.0 132.5,558.6 140.5,555.2 148.5,552.0 156.5,548.8 164.5,545.9 172.5,543.9 180.5,540.7 188.5,538.2 196.5,536.3 204.5,534.0 212.5,532.1 220.5,531.8 228.5,533.7 236.5,536.9 244.5,541.0 252.5,546.3 260.5,551.6 268.5,557.3 276.5,563.7 284.5,569.4 292.5,574.7 300.5,579.4 308.5,583.2 316.5,586.0 324.5,586.6 332.5,587.9 340.5,588.9 348.5,589.8 356.5,591.0 364.5,591.0 372.5,590.8 380.5,590.2 388.5,588.9 396.5,587.6 404.5,586.6 412.5,585.7 420.5,581.3 428.5,577.0 436.5,571.3 444.5,567.1 452.5,561.5 460.5,554.8 468.5,549.7 476.5,543.5 484.5,535.9 492.5,531.2 500.5,527.0 508.5,525.1 516.5,524.0 524.5,525.5 532.5,527.4 540.5,531.6 548.5,536.9 556.5,544.4 564.5,551.1 572.5,557.3 580.5,561.8 588.5,565.2 596.5,566.6 604.5,567.1 612.5,566.8 620.5,564.9 628.5,562.0 636.5,559.9 644.5,558.6 652.5,557.3 660.5,554.8 668.5,553.3 676.5,552.0 684.5,551.1 692.5,550.1 700.5,549.0 708.5,548.8 716.5,548.8 724.5,549.2 732.5,552.0 740.5,553.9 748.5,557.7 756.5,560.9 764.5,563.9 772.5,567.5 780.5,570.5 788.5,574.1 796.5,576.0 804.5,577.9 812.5,578.9 820.5,579.4 828.5,579.8 836.5,579.0 844.5,577.9 852.5,576.0 860.5,574.7 868.5,572.8 876.5,570.9 884.5,570.0 892.5,568.6 900.5,566.2 908.5,564.7 916.5,563.0 924.5,563.0 932.5,563.9 940.5,565.8 948.5,567.7 956.5,569.4 964.5,571.3 972.5,573.4 980.5,576.6 988.5,579.8 996.5,582.3 1004.5,583.8 1012.5,584.7 1020.5,585.7 1028.5,586.0 1036.5,586.0 1044.5,585.1 1052.5,585.7 1060.5,586.0 1068.5,586.6 1076.5,586.6 1084.5,587.6 1092.5,589.8 1100.5,591.1 1108.5,593.6 1116.5,595.5 1124.5,596.1 1132.5,595.9 1140.5,594.0 1148.5,591.7 1156.5,590.2 1164.5,586.6 1172.5,584.7 1180.5,582.6 1188.5,580.0 1196.5,579.8 1204.5,578.9 1212.5,578.5 1220.5,578.1 1228.5,578.9 1236.5,580.9 1244.5,583.8 1252.5,587.2 1260.5,591.1 1268.5,596.4 1276.5,605.0 1284.5,611.6 1292.5,620.1 1300.5,628.0 1308.5,632.9 1316.5,639.6 1324.5,642.8 1332.5,644.3 1340.5,646.0 1348.5,644.7 1356.5,642.8 1364.5,640.9 1372.5,637.7 1380.5,635.8 1388.5,634.8 1396.5,632.9 1404.5,630.9 1412.5,629.0 1420.5,626.1 1428.5,622.0 1436.5,619.7 1444.5,615.7 1452.5,611.6 1460.5,609.7 1468.5,606.3 1476.5,605.0 1484.5,604.0 1492.5,604.4 1500.5,606.8 1508.5,610.1 1516.5,616.3 1524.5,621.4 1532.5,626.7 1540.5,631.8 1548.5,635.2 1556.5,640.9 1564.5,645.0 1572.5,648.8 1580.5,650.0 1588.5,652.8 1596.5,652.8 1604.5,652.2 1612.5,650.7 1620.5,649.8 1628.5,645.6 1636.5,639.9 1644.5,635.2 1652.5,629.5 1660.5,622.0 1668.5,615.7"/>
<line x1="5" y1="717.5" x2="1689" y2="717.5" stroke="#c0c0c0" stroke-width="1" stroke-dasharray="3 3"/><line x1="5" y1="775.5" x2="1689" y2="775.5" stroke="#c0c0c0" stroke-width="1" stroke-dasharray="3 3"/><polyline fill="none" stroke="#1e90ff" stroke-width="1"  points="4.5,738.1 12.5,738.1 20.5,733.5 28.5,728.9 36.5,726.1 44.5,727.9 52.5,720.9 60.5,724.8 68.5,732.9 76.5,717.8 84.5,717.8 92.5,717.8 100.5,715.9 108.5,715.9 116.5,720.0 124.5,712.6 132.5,710.9 140.5,710.9 148.5,704.3 156.5,702.6 164.5,709.1 172.5,706.1 180.5,704.8 188.5,703.9 196.5,705.2 204.5,703.9 212.5,705.8 220.5,744.9 228.5,746.0 236.5,752.9 244.5,756.9 252.5,749.7 260.5,744.9 268.5,736.2 276.5,747.0 284.5,744.9 292.5,744.9 300.5,740.3 308.5,751.9 316.5,732.0 324.5,741.8 332.5,741.8 340.5,743.6 348.5,747.7 356.5,747.7 364.5,737.5 372.5,732.0 380.5,732.0 388.5,730.7 396.5,734.9 404.5,732.0 412.5,729.8 420.5,710.9 428.5,716.8 436.5,716.8 444.5,714.1 452.5,712.2 460.5,708.5 468.5,706.7 476.5,705.8 484.5,712.6 492.5,714.1 500.5,712.6 508.5,733.8 516.5,737.2 524.5,744.9 532.5,744.9 540.5,747.9 548.5,754.7 556.5,756.0 564.5,732.0 572.5,727.0 580.5,726.6 588.5,722.8 596.5,720.9 604.5,732.9 612.5,727.9 620.5,733.8 628.5,733.8 636.5,732.5 644.5,722.8 652.5,721.5 660.5,715.9 668.5,724.2 676.5,730.7 684.5,729.8 692.5,732.0 700.5,728.9 708.5,728.9 716.5,732.5 724.5,738.6 732.5,738.6 740.5,740.9 748.5,739.9 756.5,750.1 764.5,739.9 772.5,740.9 780.5,739.9 788.5,733.8 796.5,729.2 804.5,727.9 812.5,738.1 820.5,730.7 828.5,732.0 836.5,726.1 844.5,720.9 852.5,721.8 860.5,724.8 868.5,727.0 876.5,724.8 884.5,717.8 892.5,712.6 900.5,720.9 908.5,718.7 916.5,741.8 924.5,748.8 932.5,750.1 940.5,746.4 948.5,738.1 956.5,736.8 964.5,734.9 972.5,736.8 980.5,734.9 988.5,743.6 996.5,751.9 1004.5,751.0 1012.5,735.3 1020.5,727.0 1028.5,726.1 1036.5,729.8 1044.5,741.8 1052.5,743.6 1060.5,759.9 1068.5,747.0 1076.5,747.0 1084.5,753.8 1092.5,749.7 1100.5,738.1 1108.5,744.9 1116.5,734.9 1124.5,733.8 1132.5,737.5 1140.5,732.0 1148.5,732.0 1156.5,729.8 1164.5,733.5 1172.5,740.9 1180.5,737.5 1188.5,735.9 1196.5,744.0 1204.5,737.2 1212.5,733.8 1220.5,733.8 1228.5,752.9 1236.5,759.9 1244.5,757.9 1252.5,766.4 1260.5,770.8 1268.5,769.9 1276.5,780.6 1284.5,764.0 1292.5,768.6 1300.5,764.0 1308.5,751.0 1316.5,751.9 1324.5,751.9 1332.5,749.7 1340.5,751.9 1348.5,755.1 1356.5,752.9 1364.5,752.9 1372.5,758.8 1380.5,756.9 1388.5,759.9 1396.5,742.3 1404.5,737.7 1412.5,740.9 1420.5,740.9 1428.5,736.8 1436.5,734.9 1444.5,748.8 1452.5,747.9 1460.5,742.2 1468.5,748.8 1476.5,754.7 1484.5,758.8 1492.5,762.5 1500.5,771.3 1508.5,778.7 1516.5,777.8 1524.5,776.9 1532.5,757.9 1540.5,742.2 1548.5,756.9 1556.5,767.7 1564.5,764.0 1572.5,761.2 1580.5,765.8 1588.5,761.6 1596.5,744.9 1604.5,744.9 1612.5,745.8 1620.5,744.0 1628.5,738.1 1636.5,737.7 1644.5,735.9 1652.5,743.6 1660.5,738.6 1668.5,738.6"/>
<rect x="3" y="4" width="1687" height="1" fill="#000"/><rect x="3" y="4" width="1" height="502" fill="#000"/><rect x="3" y="505" width="1687" height="1" fill="#000"/><rect x="3" y="507" width="1687" height="1" fill="#000"/><rect x="3" y="507" width="1" height="163" fill="#000"/><rect x="3" y="669" width="1687" height="1" fill="#000"/><rect x="3" y="671" width="1687" height="1" fill="#000"/><rect x="3" y="671" width="1" height="150" fill="#000"/><rect x="3" y="820" width="1687" height="1" fill="#000"/><rect x="1689" y="4" width="1" height="817" fill="#000"/><rect x="4" y="53" width="1686" height="2" fill="#ff0000"/><rect x="4" y="148" width="1686" height="2" fill="#24c824"/><rect x="4" y="224" width="1686" height="2" fill="#4169e1"/><rect x="4" y="300" width="1686" height="2" fill="#4169e1"/><rect x="4" y="395" width="1686" height="2" fill="#4169e1"/><rect x="4" y="144" width="1685" height="1" fill="#778899"/><rect x="1690" y="7" width="2" height="1" fill="#000"/><rect x="1690" y="40" width="2" height="1" fill="#000"/><rect x="1690" y="73" width="2" height="1" fill="#000"/><rect x="1690" y="106" width="2" height="1" fill="#000"/><rect x="1690" y="139" width="2" height="1" fill="#000"/><rect x="1690" y="172" width="2" height="1" fill="#000"/><rect x="1690" y="205" width="2" height="1" fill="#000"/><rect x="1690" y="238" width="2" height="1" fill="#000"/><rect x="1690" y="271" width="2" height="1" fill="#000"/><rect x="1690" y="304" width="2" height="1" fill="#000"/><rect x="1690" y="337" width="2" height="1" fill="#000"/><rect x="1690" y="370" width="2" height="1" fill="#000"/><rect x="1690" y="403" width="2" height="1" fill="#000"/><rect x="1690" y="436" width="2" height="1" fill="#000"/><rect x="1690" y="469" width="2" height="1" fill="#000"/><rect x="1690" y="502" width="2" height="1" fill="#000"/><rect x="1690" y="509" width="2" height="1" fill="#000"/><rect x="1690" y="603" width="2" height="1" fill="#000"/><rect x="1690" y="663" width="2" height="1" fill="#000"/><rect x="1690" y="673" width="2" height="1" fill="#000"/><rect x="1690" y="717" width="2" height="1" fill="#000"/><rect x="1690" y="775" width="2" height="1" fill="#000"/><rect x="1690" y="814" width="2" height="1" fill="#000"/><rect x="4" y="821" width="1" height="3" fill="#000"/><rect x="68" y="821" width="1" height="3" fill="#000"/><rect x="132" y="821" width="1" height="3" fill="#000"/><rect x="196" y="821" width="1" height="3" fill="#000"/><rect x="260" y="821" width="1" height="3" fill="#000"/><rect x="324" y="821" width="1" height="3" fill="#000"/><rect x="388" y="821" width="1" height="3" fill="#000"/><rect x="452" y="821" width="1" height="3" fill="#000"/><rect x="516" y="821" width="1" height="3" fill="#000"/><rect x="580" y="821" width="1" height="3" fill="#000"/><rect x="644" y="821" width="1" height="3" fill="#000"/><rect x="708" y="821" width="1" height="3" fill="#000"/><rect x="772" y="821" width="1" height="3" fill="#000"/><rect x="836" y="821" width="1" height="3" fill="#000"/><rect x="900" y="821" width="1" height="3" fill="#000"/><rect x="964" y="821" width="1" height="3" fill="#000"/><rect x="1028" y="821" width="1" height="3" fill="#000"/><rect x="1092" y="821" width="1" height="3" fill="#000"/><rect x="1156" y="821" width="1" height="3" fill="#000"/><rect x="1220" y="821" width="1" height="3" fill="#000"/><rect x="1284" y="821" width="1" height="3" fill="#000"/><rect x="1348" y="821" width="1" height="3" fill="#000"/><rect x="1412" y="821" width="1" height="3" fill="#000"/><rect x="1476" y="821" width="1" height="3" fill="#000"/><rect x="1540" y="821" width="1" height="3" fill="#000"/><rect x="1604" y="821" width="1" height="3" fill="#000"/><rect x="1668" y="821" width="1" height="3" fill="#000"/>
<rect x="1690" y="139" width="37" height="11" fill="#000"/><rect x="1691" y="48" width="36" height="11" fill="#ff0000"/><rect x="1691" y="143" width="36" height="11" fill="#24c824"/><rect x="1691" y="219" width="36" height="11" fill="#4169e1"/><rect x="1691" y="295" width="36" height="11" fill="#4169e1"/><rect x="1691" y="390" width="36" height="11" fill="#4169e1"/></g>
<path d="M6.8 11h7.6l-3.8 4.4z" fill="#000"/>
<text transform="translate(18.66 16.00) scale(0.9558 1)" fill="#000" stroke="#000" >UKOil-,H4</text>
<text transform="translate(67.50 16.00) scale(0.9318 1)" fill="#000" stroke="#000" >83.620 83.710 83.560 83.630</text>
<text transform="translate(7.73 520.30) scale(0.9441 1)" fill="#000" stroke="#000" >MACD(12,26,9) 0.1434 -0.1439</text>
<text transform="translate(7.63 684.30) scale(0.9343 1)" fill="#000" stroke="#000" >RSI(14) 55.4235</text>
<text transform="translate(1694.80 11.00) scale(0.9280 1)" fill="#000" stroke="#000" >87.235</text>
<text transform="translate(1694.80 43.98) scale(0.9280 1)" fill="#000" stroke="#000" >86.360</text>
<text transform="translate(1694.80 76.96) scale(0.9280 1)" fill="#000" stroke="#000" >85.510</text>
<text transform="translate(1694.80 109.94) scale(0.9280 1)" fill="#000" stroke="#000" >84.635</text>
<clipPath id="c1"><rect x="1690" y="130" width="40" height="9"/></clipPath><g clip-path="url(#c1)"><text transform="translate(1694.80 142.92) scale(0.9280 1)" fill="#000" stroke="#000" >83.760</text>
</g><text transform="translate(1694.80 175.90) scale(0.9280 1)" fill="#000" stroke="#000" >82.910</text>
<text transform="translate(1694.80 208.88) scale(0.9280 1)" fill="#000" stroke="#000" >82.035</text>
<text transform="translate(1694.80 241.86) scale(0.9280 1)" fill="#000" stroke="#000" >81.160</text>
<text transform="translate(1694.80 274.84) scale(0.9280 1)" fill="#000" stroke="#000" >80.310</text>
<clipPath id="c2"><rect x="1690" y="306" width="40" height="9"/></clipPath><g clip-path="url(#c2)"><text transform="translate(1694.72 307.82) scale(0.9280 1)" fill="#000" stroke="#000" >79.435</text>
</g><text transform="translate(1694.72 340.80) scale(0.9280 1)" fill="#000" stroke="#000" >78.560</text>
<text transform="translate(1694.72 373.78) scale(0.9280 1)" fill="#000" stroke="#000" >77.685</text>
<text transform="translate(1694.72 406.76) scale(0.9280 1)" fill="#000" stroke="#000" >76.835</text>
<text transform="translate(1694.72 439.74) scale(0.9280 1)" fill="#000" stroke="#000" >75.960</text>
<text transform="translate(1694.72 472.72) scale(0.9280 1)" fill="#000" stroke="#000" >75.085</text>
<text transform="translate(1694.72 505.70) scale(0.9280 1)" fill="#000" stroke="#000" >74.235</text>
<clipPath id="c3"><rect x="1690" y="139" width="40" height="4"/></clipPath><g clip-path="url(#c3)"><text transform="translate(1694.80 148.50) scale(0.9280 1)" fill="#fff" stroke="#fff" >83.630</text>
</g><text transform="translate(1694.80 57.00) scale(0.9280 1)" fill="#fff" stroke="#fff" >86.000</text>
<text transform="translate(1694.80 152.00) scale(0.9280 1)" fill="#fff" stroke="#fff" >83.500</text>
<text transform="translate(1694.80 228.00) scale(0.9280 1)" fill="#fff" stroke="#fff" >81.500</text>
<text transform="translate(1694.72 304.00) scale(0.9280 1)" fill="#fff" stroke="#fff" >79.500</text>
<text transform="translate(1694.72 399.00) scale(0.9280 1)" fill="#fff" stroke="#fff" >77.000</text>
<text transform="translate(1692.49 518.30) scale(0.9280 1)" fill="#000" stroke="#000" >1.2935</text>
<text transform="translate(1692.84 607.10) scale(0.9280 1)" fill="#000" stroke="#000" >0.00</text>
<text transform="translate(1692.59 666.30) scale(0.9280 1)" fill="#000" stroke="#000" >-0.8862</text>
<text transform="translate(1692.69 681.90) scale(0.9280 1)" fill="#000" stroke="#000" >100</text>
<text transform="translate(1692.62 720.80) scale(0.9280 1)" fill="#000" stroke="#000" >70</text>
<text transform="translate(1692.75 778.90) scale(0.9280 1)" fill="#000" stroke="#000" >30</text>
<text transform="translate(1692.84 816.80) scale(0.9280 1)" fill="#000" stroke="#000" >0</text>
<text transform="translate(2.93 833.20) scale(0.9360 1)" fill="#000" stroke="#000" >22 Sep 2021</text>
<text transform="translate(66.93 833.20) scale(0.9360 1)" fill="#000" stroke="#000" >23 Sep 08:00</text>
<text transform="translate(130.93 833.20) scale(0.9360 1)" fill="#000" stroke="#000" >24 Sep 16:00</text>
<text transform="translate(194.93 833.20) scale(0.9360 1)" fill="#000" stroke="#000" >28 Sep 00:00</text>
<text transform="translate(258.93 833.20) scale(0.9360 1)" fill="#000" stroke="#000" >29 Sep 08:00</text>
<text transform="translate(323.04 833.20) scale(0.9360 1)" fill="#000" stroke="#000" >30 Sep 16:00</text>
<text transform="translate(387.04 833.20) scale(0.9550 1)" fill="#000" stroke="#000" >3 Oct 23:00</text>
<text transform="translate(451.02 833.20) scale(0.9550 1)" fill="#000" stroke="#000" >5 Oct 04:00</text>
<text transform="translate(514.92 833.20) scale(0.9550 1)" fill="#000" stroke="#000" >6 Oct 12:00</text>
<text transform="translate(578.91 833.20) scale(0.9550 1)" fill="#000" stroke="#000" >7 Oct 20:00</text>
<text transform="translate(642.67 833.20) scale(0.9550 1)" fill="#000" stroke="#000" >11 Oct 00:00</text>
<text transform="translate(706.67 833.20) scale(0.9550 1)" fill="#000" stroke="#000" >12 Oct 08:00</text>
<text transform="translate(770.67 833.20) scale(0.9550 1)" fill="#000" stroke="#000" >13 Oct 16:00</text>
<text transform="translate(834.67 833.20) scale(0.9550 1)" fill="#000" stroke="#000" >15 Oct 00:00</text>
<text transform="translate(898.67 833.20) scale(0.9550 1)" fill="#000" stroke="#000" >18 Oct 04:00</text>
<text transform="translate(962.67 833.20) scale(0.9550 1)" fill="#000" stroke="#000" >19 Oct 12:00</text>
<text transform="translate(1026.92 833.20) scale(0.9550 1)" fill="#000" stroke="#000" >20 Oct 20:00</text>
<text transform="translate(1090.92 833.20) scale(0.9550 1)" fill="#000" stroke="#000" >22 Oct 04:00</text>
<text transform="translate(1154.92 833.20) scale(0.9550 1)" fill="#000" stroke="#000" >25 Oct 08:00</text>
<text transform="translate(1218.92 833.20) scale(0.9550 1)" fill="#000" stroke="#000" >26 Oct 16:00</text>
<text transform="translate(1282.92 833.20) scale(0.9550 1)" fill="#000" stroke="#000" >28 Oct 04:00</text>
<text transform="translate(1346.92 833.20) scale(0.9550 1)" fill="#000" stroke="#000" >29 Oct 12:00</text>
<text transform="translate(1410.66 833.20) scale(0.9760 1)" fill="#000" stroke="#000" >1 Nov 16:00</text>
<text transform="translate(1475.03 833.20) scale(0.9760 1)" fill="#000" stroke="#000" >3 Nov 00:00</text>
<text transform="translate(1539.18 833.20) scale(0.9760 1)" fill="#000" stroke="#000" >4 Nov 08:00</text>
<text transform="translate(1603.01 833.20) scale(0.9760 1)" fill="#000" stroke="#000" >5 Nov 16:00</text>
<text transform="translate(1666.98 833.20) scale(0.9760 1)" fill="#000" stroke="#000" >8 Nov 20:00</text>
<text x="1202" y="466" fill="#ed1c24" textLength="271" lengthAdjust="spacing" style="font-family:'Liberation Sans','Noto Sans CJK SC',sans-serif;font-size:39px;">多空转折点83.5</text>
</svg>
</body></html>
